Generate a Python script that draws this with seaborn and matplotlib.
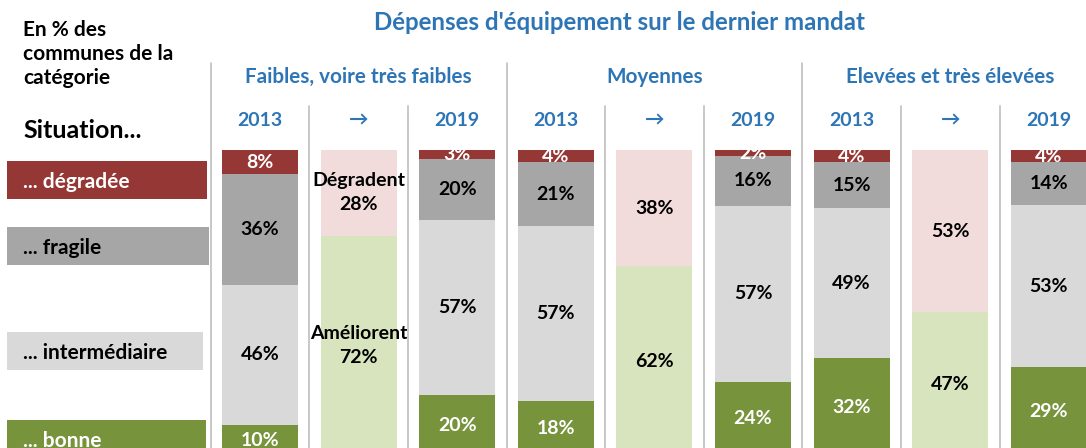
import pandas as pd
import matplotlib.pyplot as plt
import seaborn as sns
from matplotlib.patches import Rectangle

W, H = 1086, 448

# columns: 3 groups x (2013, change, 2019)
groups = ["Faibles, voire très faibles", "Moyennes", "Elevées et très élevées"]
col_labels = ["2013", "→", "2019"] * 3

# situation shares (%) for the 2013 / 2019 columns
degradee = [8, 3, 4, 2, 4, 4]
fragile = [36, 20, 21, 16, 15, 14]
intermediaire = [46, 57, 57, 57, 49, 53]
bonne = [10, 20, 18, 24, 32, 29]

# change columns: share of communes that improve / worsen
degradent = [28, 38, 53]
ameliorent = [72, 62, 47]

levels = ["dégradée", "fragile", "intermédiaire", "bonne", "dégradent", "améliorent"]
colors = {"dégradée": "#953735", "fragile": "#A6A6A6", "intermédiaire": "#D9D9D9",
          "bonne": "#77933C", "dégradent": "#F2DCDB", "améliorent": "#D7E4BD"}
text_colors = {"dégradée": "white", "fragile": "black", "intermédiaire": "black",
               "bonne": "white", "dégradent": "black", "améliorent": "black"}

rows = []
year_pos = [0, 2, 3, 5, 6, 8]
for i, p in enumerate(year_pos):
    for lev, vals in zip(levels[:4], [degradee, fragile, intermediaire, bonne]):
        rows.append((p, lev, vals[i]))
for i, p in enumerate([1, 4, 7]):
    rows.append((p, "dégradent", degradent[i]))
    rows.append((p, "améliorent", ameliorent[i]))
df = pd.DataFrame(rows, columns=["pos", "situation", "pct"])

sns.set_theme(style="white")
plt.rcParams["font.family"] = ["Lato", "DejaVu Sans"]
blue = "#2E75B6"

fig = plt.figure(figsize=(W / 100, H / 100), dpi=100)
step = 98.6
x0 = 260
bottom_cut = 2.6
ax = fig.add_axes([0, 0, 1, 298 / H])
sns.histplot(data=df, x="pos", hue="situation", weights="pct", multiple="fill",
             discrete=True, shrink=0.77, hue_order=levels, palette=colors,
             alpha=1, linewidth=0, legend=False, ax=ax)
ax.set_xlim(-x0 / step, (W - x0) / step)
ax.set_ylim(bottom_cut / 100, 1)
ax.axis("off")

# segment labels
for p, sub in df.groupby("pos"):
    sub = sub.set_index("situation").reindex([l for l in levels[::-1] if l in set(sub["situation"])])
    tot = sub["pct"].sum()
    base = 0
    for lev, r in sub.iterrows():
        h = r["pct"] / tot
        txt = f"{r['pct']}%"
        if lev == "dégradent" and p == 1:
            txt = "Dégradent\n28%"
        if lev == "améliorent" and p == 1:
            txt = "Améliorent\n72%"
        ax.text(p, base + h / 2, txt, ha="center", va="center", fontsize=14,
                fontweight="bold", color=text_colors[lev], linespacing=1.5, clip_on=False)
        base += h


def fx(px):
    return px / W


def fy(py):
    return 1 - py / H


# separators
for k in range(10):
    xp = x0 + (k - 0.5) * step
    top = 63 if k % 3 == 0 else 106
    fig.add_artist(plt.Line2D([fx(xp), fx(xp)], [fy(top), 0], color="#BFBFBF", lw=1.2))

fig.text(fx(619), fy(22), "Dépenses d'équipement sur le dernier mandat", ha="center",
         va="center", fontsize=17.3, fontweight="bold", color=blue)
for g, name in enumerate(groups):
    fig.text(fx(x0 + (3 * g + 1) * step), fy(77), name, ha="center", va="center",
             fontsize=14.9, fontweight="bold", color=blue)
for k, lab in enumerate(col_labels):
    fig.text(fx(x0 + k * step), fy(120), lab, ha="center", va="center",
             fontsize=14, fontweight="bold", color=blue)

fig.text(fx(23), fy(54), "En % des\ncommunes de la\ncatégorie", ha="left", va="center",
         fontsize=15, fontweight="bold", color="black", linespacing=1.25)
fig.text(fx(23), fy(130), "Situation...", ha="left", va="center",
         fontsize=18, fontweight="bold", color="black")

legend_boxes = [("... dégradée", "dégradée", 161, 207),
                ("... fragile", "fragile", 227, 209),
                ("... intermédiaire", "intermédiaire", 332, 203),
                ("... bonne", "bonne", 420, 206)]
for label, lev, ytop, xright in legend_boxes:
    fig.add_artist(Rectangle((fx(7), fy(ytop + 38)), fx(xright) - fx(7), 38 / H,
                             transform=fig.transFigure, color=colors[lev], lw=0))
    fig.text(fx(23), fy(ytop + 21), label, ha="left", va="center", fontsize=15,
             fontweight="bold", color=text_colors[lev])

fig.savefig("out.png", dpi=100)
